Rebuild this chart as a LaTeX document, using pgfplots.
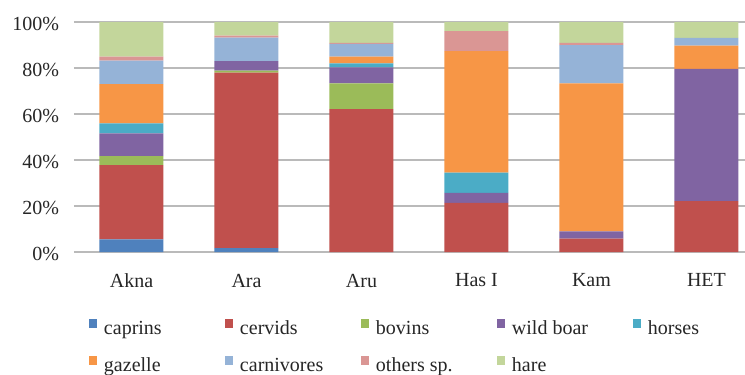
\documentclass[border=0pt]{standalone}
\usepackage{pgfplots}
\pgfplotsset{compat=1.18}
\usepackage{fontspec}
\setmainfont{Liberation Serif}
\definecolor{caprins}{HTML}{4F81BD}
\definecolor{cervids}{HTML}{C0504D}
\definecolor{bovins}{HTML}{9BBB59}
\definecolor{boar}{HTML}{8064A2}
\definecolor{horses}{HTML}{4BACC6}
\definecolor{gazelle}{HTML}{F79646}
\definecolor{carniv}{HTML}{95B3D7}
\definecolor{others}{HTML}{DA9694}
\definecolor{hare}{HTML}{C3D69B}
\newcommand{\lgent}[1]{\makebox[126pt][l]{\rule[-9pt]{0pt}{36pt}\hspace{6pt}#1}}
\begin{document}
\fontsize{20}{24}\selectfont
\begin{tikzpicture}
\path[use as bounding box] (-74pt,-123pt) rectangle (671pt,252pt);
\begin{axis}[
  at={(0pt,0pt)}, anchor=south west,
  scale only axis, width=671pt, height=230pt,
  ybar stacked, bar width=64pt,
  xmin=-0.5, xmax=5.335, ymin=0, ymax=100,
  xtick={0,1,2,3,4,5},
  xticklabels={Akna,Ara,Aru,Has I,Kam,HET},
  ytick={0,20,40,60,80,100},
  yticklabels={0\%,20\%,40\%,60\%,80\%,100\%},
  ymajorgrids, major grid style={draw=black!27, line width=1.5pt},
  axis line style={draw=none},
  major tick length=0pt,
  tick label style={font=\fontsize{20}{24}\selectfont, text=black!85},
  yticklabel style={xshift=-8pt, yshift=-2pt},
  xticklabel style={yshift=-15pt},
  legend columns=5,
  legend cell align=left,
  legend image code/.code={\fill[#1] (0pt,-5.5pt) rectangle (8pt,3.5pt);},
  legend style={draw=none, fill=none, font=\fontsize{20}{24}\selectfont,
    at={(axis description cs:0.02235,-0.2391)}, anchor=north west,
    row sep=4.5pt, column sep=0pt, inner sep=0pt, outer sep=0pt,
    nodes={inner sep=1pt, text=black!85}},
  clip=false,
]
\addplot[fill=caprins, draw=none] coordinates {(0,5.5) (1,1.7) (2,0) (3,0) (4,0) (5,0)};
\addplot[fill=cervids, draw=none] coordinates {(0,32.3) (1,76.3) (2,62.1) (3,21.4) (4,5.8) (5,22.1)};
\addplot[fill=bovins, draw=none] coordinates {(0,3.9) (1,0.9) (2,11.2) (3,0) (4,0) (5,0)};
\addplot[fill=boar, draw=none] coordinates {(0,9.9) (1,4.1) (2,7.0) (3,4.3) (4,3.2) (5,57.5)};
\addplot[fill=horses, draw=none] coordinates {(0,4.3) (1,0) (2,1.7) (3,8.8) (4,0) (5,0)};
\addplot[fill=gazelle, draw=none] coordinates {(0,17.1) (1,0) (2,2.9) (3,52.8) (4,64.3) (5,10.1)};
\addplot[fill=carniv, draw=none] coordinates {(0,10.2) (1,10.2) (2,5.6) (3,0) (4,16.6) (5,3.4)};
\addplot[fill=others, draw=none] coordinates {(0,1.7) (1,0.9) (2,0.4) (3,8.7) (4,1.0) (5,0)};
\addplot[fill=hare, draw=none] coordinates {(0,15.1) (1,5.9) (2,9.1) (3,4.0) (4,9.1) (5,6.9)};
\legend{\lgent{caprins},\lgent{cervids},\lgent{bovins},\lgent{wild boar},\lgent{horses},\lgent{gazelle},\lgent{carnivores},\lgent{others sp.},\lgent{hare}}
\end{axis}
\end{tikzpicture}
\end{document}
